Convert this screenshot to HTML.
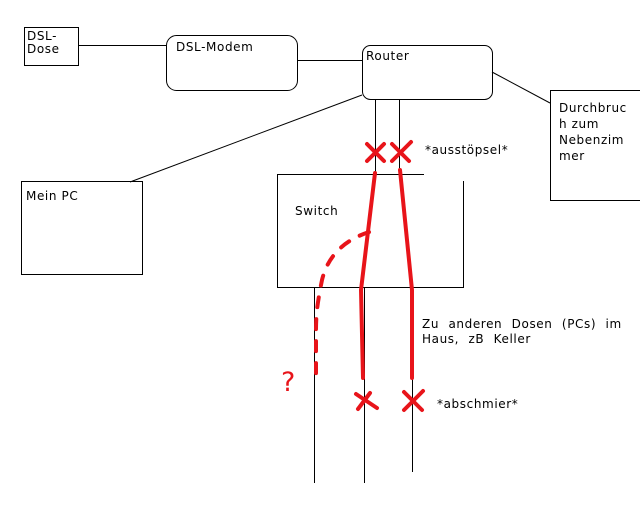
<!DOCTYPE html>
<html><head><style>
body{margin:0;background:#fff;width:640px;height:512px;overflow:hidden}
svg text{font-family:"DejaVu Sans","Liberation Sans",sans-serif;font-size:12px;letter-spacing:0.6px;fill:#000}
</style></head><body>
<svg width="640" height="512" viewBox="0 0 640 512">
<g fill="none" stroke="#000" stroke-width="1">
<rect x="24.5" y="27.5" width="54" height="38"/>
<rect x="166.5" y="35.5" width="131" height="55" rx="10"/>
<rect x="362.5" y="45.5" width="130" height="54" rx="8"/>
<rect x="550.5" y="90.5" width="95" height="110"/>
<rect x="21.5" y="181.5" width="121" height="93"/>
<line x1="78" y1="45.5" x2="166" y2="45.5"/>
<line x1="297" y1="60.5" x2="362" y2="60.5"/>
<line x1="492" y1="72" x2="550" y2="103"/>
<line x1="362" y1="95" x2="130" y2="182"/>
<line x1="375.5" y1="99" x2="375.5" y2="174"/>
<line x1="399.5" y1="99" x2="399.5" y2="174"/>
<polyline points="424,174.5 277.5,174.5 277.5,287.5 463.5,287.5 463.5,181"/>
<line x1="314.5" y1="287" x2="314.5" y2="483"/>
<line x1="364.5" y1="287" x2="364.5" y2="483"/>
<line x1="412.5" y1="287" x2="412.5" y2="472"/>
</g>
<g fill="none" stroke="#e8141a" stroke-width="4" stroke-linecap="round">
<polyline points="375,173 361,290 363,378"/>
<polyline points="400,170 412,290 412,378"/>
<line x1="367" y1="144" x2="384" y2="161"/><line x1="384" y1="144" x2="367" y2="161"/>
<line x1="392" y1="144" x2="409" y2="161"/><line x1="411" y1="142" x2="392" y2="161"/>
<line x1="356" y1="394" x2="377" y2="408"/><line x1="370" y1="393" x2="358" y2="409"/>
<line x1="404" y1="392" x2="422" y2="410"/><line x1="423" y1="391" x2="404" y2="410"/>
<path d="M369,232 C345,240 328,255 322,280 C318,300 316,312 316,330 L316,385" stroke-dasharray="10,12"/>
</g>
<text x="27" y="40">DSL-</text><text x="27" y="53">Dose</text>
<text x="176" y="51">DSL-Modem</text>
<text x="366" y="60">Router</text>
<text x="559" y="112">Durchbruc</text><text x="559" y="128">h zum</text>
<text x="559" y="144">Nebenzim</text><text x="559" y="160">mer</text>
<text x="26" y="200">Mein PC</text>
<text x="295" y="215">Switch</text>
<text x="425" y="154">*ausstöpsel*</text>
<text x="422" y="328" style="word-spacing:5px">Zu anderen Dosen (PCs) im</text>
<text x="422" y="343" style="word-spacing:5px">Haus, zB Keller</text>
<text x="437" y="408">*abschmier*</text>
<text x="281" y="391" style="fill:#e8141a;font-size:27px;letter-spacing:0">?</text>
</svg>
</body></html>
